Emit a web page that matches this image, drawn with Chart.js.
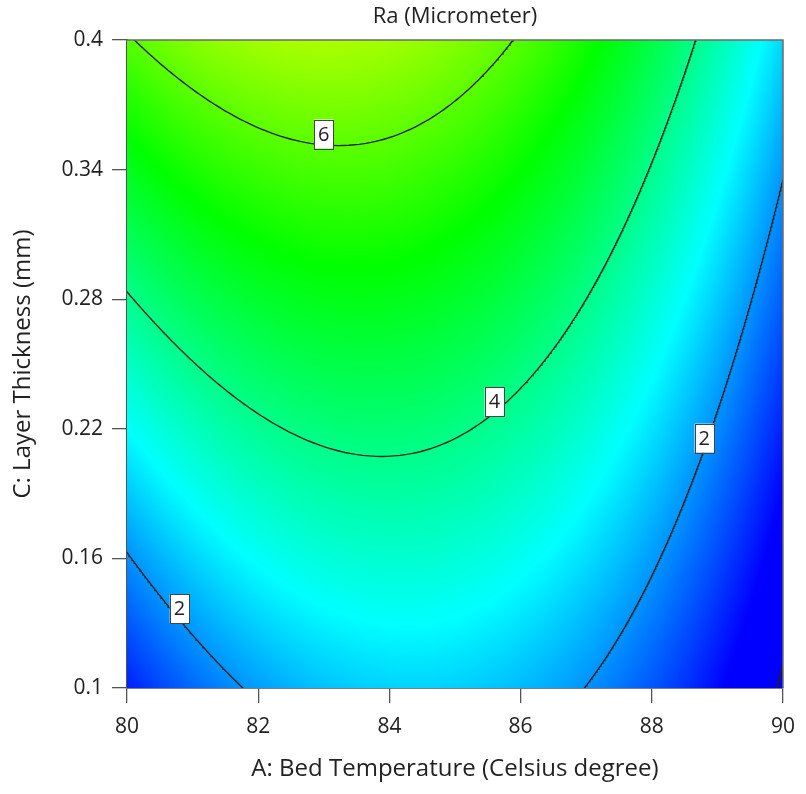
<!DOCTYPE html>
<html>
<head>
<meta charset="utf-8">
<script src="https://cdn.jsdelivr.net/npm/chart.js@4.4.1/dist/chart.umd.min.js"></script>
<style>
  html, body { margin: 0; padding: 0; background: #fff; }
</style>
</head>
<body>
<canvas id="chart" width="806" height="794"></canvas>
<script>
// design space of the two factors (actual units)
const rangeA = [80, 90];     // A: bed temperature
const rangeC = [0.1, 0.4];   // C: layer thickness

// Ra in coded terms: Intercept, A, C, AC, A², C²
const modelCoeffs = [4.44, -1.105, 1.914, -0.576, -2.10, 0.01];

const contourLevels = [0, 2, 4, 6];
// tagged contours: level and the temperature the tag sits at
const tagLevels = [6, 4, 2, 2];
const tagTemps = [83.0, 85.6, 88.8, 80.8];

const ticksA = [80, 82, 84, 86, 88, 90];
const ticksC = [0.1, 0.16, 0.22, 0.28, 0.34, 0.4];

// response values spanned by the blue..red colour scale
const colorRange = [0.7, 9.7];
const rampColors = [[0, 0, 255], [0, 255, 255], [0, 255, 0], [255, 255, 0], [255, 0, 0]];

const FONT = '"Open Sans", "Noto Sans", sans-serif';
const INK = '#222';

const mid = r => (r[0] + r[1]) / 2;
const half = r => (r[1] - r[0]) / 2;
const codedA = A => (A - mid(rangeA)) / half(rangeA);
const codedC = C => (C - mid(rangeC)) / half(rangeC);
const actualA = a => mid(rangeA) + a * half(rangeA);
const actualC = c => mid(rangeC) + c * half(rangeC);

function ra(a, c) {
  const [b0, b1, b2, b12, b11, b22] = modelCoeffs;
  return b0 + b1 * a + b2 * c + b12 * a * c + b11 * a * a + b22 * c * c;
}

function rampColor(v) {
  let t = (v - colorRange[0]) / (colorRange[1] - colorRange[0]);
  t = Math.min(1, Math.max(0, t)) * (rampColors.length - 1);
  const i = Math.min(Math.floor(t), rampColors.length - 2);
  const f = t - i;
  return rampColors[i].map((ch, n) => Math.round(ch + (rampColors[i + 1][n] - ch) * f));
}

// both A-roots of ra(a, c) = level for a fixed c, or null
function rootsAt(c, level) {
  const [b0, b1, b2, b12, b11, b22] = modelCoeffs;
  const k = b1 + b12 * c;
  const g = b0 + b2 * c + b22 * c * c - level;
  const disc = k * k - 4 * b11 * g;
  if (disc < 0) return null;
  const s = Math.sqrt(disc);
  const r1 = (-k + s) / (2 * b11), r2 = (-k - s) / (2 * b11);
  return [Math.min(r1, r2), Math.max(r1, r2)];
}

// walk up in C and collect the left and right branches of one contour
function contourPaths(level) {
  const c0 = -1.2, c1 = 1.2, n = 800;
  const left = [], right = [];
  let joined = false, prev = null;
  for (let i = 0; i <= n; i++) {
    const c = c0 + (c1 - c0) * i / n;
    const r = rootsAt(c, level);
    if (r && !prev && i > 0) {
      // the curve turns between the two samples: find its tip
      let lo = c0 + (c1 - c0) * (i - 1) / n, hi = c;
      for (let j = 0; j < 50; j++) {
        const m = (lo + hi) / 2;
        if (rootsAt(m, level)) hi = m; else lo = m;
      }
      const t = rootsAt(hi, level);
      left.push([t[0], hi]);
      right.push([t[1], hi]);
      joined = true;
    }
    if (r) {
      left.push([r[0], c]);
      right.push([r[1], c]);
    }
    prev = r;
  }
  const toXY = pts => pts.map(([a, c]) => ({ x: actualA(a), y: actualC(c) }));
  if (joined) return [toXY(left.reverse().concat(right))];
  return [toXY(left), toXY(right)];
}

// C where the contour crosses a given temperature (ra rises with C here)
function thicknessOn(level, A) {
  const a = codedA(A);
  let lo = -1.5, hi = 1.5;
  for (let j = 0; j < 60; j++) {
    const m = (lo + hi) / 2;
    if (ra(a, m) < level) lo = m; else hi = m;
  }
  return actualC((lo + hi) / 2);
}

const datasets = [];
contourLevels.forEach(level => {
  contourPaths(level).forEach(path => {
    datasets.push({
      label: 'Ra = ' + level,
      data: path,
      showLine: true,
      pointRadius: 0,
      borderColor: INK,
      borderWidth: 1.4,
      fill: false
    });
  });
});

const surfacePlugin = {
  id: 'surface',
  beforeDatasetsDraw(chart) {
    const { ctx, chartArea: area, scales: { x, y } } = chart;
    const left = Math.round(area.left), top = Math.round(area.top);
    const w = Math.round(area.right) - left, h = Math.round(area.bottom) - top;
    const img = ctx.createImageData(w, h);
    for (let j = 0; j < h; j++) {
      const c = codedC(y.getValueForPixel(top + j + 0.5));
      for (let i = 0; i < w; i++) {
        const a = codedA(x.getValueForPixel(left + i + 0.5));
        const col = rampColor(ra(a, c));
        const k = (j * w + i) * 4;
        img.data[k] = col[0];
        img.data[k + 1] = col[1];
        img.data[k + 2] = col[2];
        img.data[k + 3] = 255;
      }
    }
    ctx.putImageData(img, left, top);
  }
};

const tagPlugin = {
  id: 'contourTags',
  afterDatasetsDraw(chart) {
    const { ctx, scales: { x, y } } = chart;
    ctx.save();
    ctx.font = '20px ' + FONT;
    ctx.textAlign = 'center';
    ctx.textBaseline = 'middle';
    tagLevels.forEach((level, i) => {
      const A = tagTemps[i];
      const px = x.getPixelForValue(A);
      const py = y.getPixelForValue(thicknessOn(level, A)) - 11;
      const text = String(level);
      const tw = ctx.measureText(text).width + 8, th = 29;
      ctx.fillStyle = '#fff';
      ctx.fillRect(px - tw / 2, py - th / 2, tw, th);
      ctx.strokeStyle = '#444';
      ctx.lineWidth = 1;
      ctx.strokeRect(Math.round(px - tw / 2) + 0.5, Math.round(py - th / 2) + 0.5, Math.round(tw), th);
      ctx.fillStyle = INK;
      ctx.fillText(text, px, py + 1);
    });
    ctx.restore();
  }
};

const framePlugin = {
  id: 'frame',
  afterDraw(chart) {
    const { ctx, chartArea: a } = chart;
    ctx.save();
    ctx.strokeStyle = '#6b6b6b';
    ctx.lineWidth = 1.5;
    ctx.beginPath();
    ctx.moveTo(a.left, a.top);
    ctx.lineTo(a.right, a.top);
    ctx.lineTo(a.right, a.bottom);
    ctx.stroke();
    ctx.restore();
  }
};

const axisGrid = { drawOnChartArea: false, drawTicks: true, tickLength: 15, color: '#555', lineWidth: 1.3 };
const axisBorder = { display: true, color: '#555', width: 1.8 };

new Chart(document.getElementById('chart'), {
  type: 'scatter',
  data: { datasets },
  options: {
    responsive: false,
    animation: false,
    devicePixelRatio: 1,
    layout: { padding: { top: 0, right: 22, bottom: 0, left: 0 } },
    plugins: {
      legend: { display: false },
      tooltip: { enabled: false },
      title: {
        display: true,
        fullSize: false,
        text: 'Ra (Micrometer)',
        color: INK,
        font: { family: FONT, size: 22, weight: 'normal' },
        padding: { top: 4, bottom: 9.6 }
      }
    },
    scales: {
      x: {
        type: 'linear',
        min: rangeA[0],
        max: rangeA[1],
        z: 1,
        afterBuildTicks: s => { s.ticks = ticksA.map(value => ({ value })); },
        afterFit: s => { s.height = 106; },
        grid: axisGrid,
        border: axisBorder,
        ticks: {
          autoSkip: false, maxRotation: 0, padding: 11, color: INK,
          font: { family: FONT, size: 21 },
          callback: v => String(v)
        },
        title: {
          display: true,
          text: 'A: Bed Temperature (Celsius degree)',
          color: INK,
          font: { family: FONT, size: 24 },
          padding: { top: 0, bottom: 10 }
        }
      },
      y: {
        type: 'linear',
        min: rangeC[0],
        max: rangeC[1],
        z: 1,
        afterBuildTicks: s => { s.ticks = ticksC.map(value => ({ value })); },
        afterFit: s => { s.width = 127; },
        grid: axisGrid,
        border: axisBorder,
        ticks: {
          autoSkip: false, padding: 9, color: INK,
          font: { family: FONT, size: 21 },
          callback: v => String(v)
        },
        title: {
          display: true,
          text: 'C: Layer Thickness (mm)',
          color: INK,
          font: { family: FONT, size: 24 },
          padding: { top: 9, bottom: 0 }
        }
      }
    }
  },
  plugins: [surfacePlugin, tagPlugin, framePlugin]
});
</script>
</body>
</html>
